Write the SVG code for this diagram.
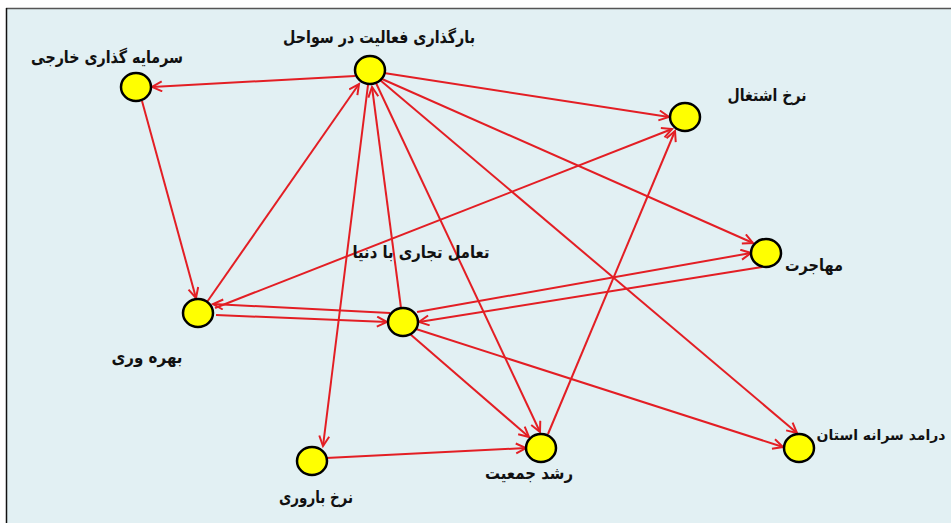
<svg xmlns="http://www.w3.org/2000/svg" width="951" height="523" viewBox="0 0 951 523">
<style>
.bg{fill:#e2f0f3}
.node{fill:#ffff00;stroke:#000;stroke-width:2.5}
.lbl{font-family:"DejaVu Sans","Noto Sans",sans-serif;font-size:17px;font-weight:bold;fill:#111;text-anchor:middle}
.e{stroke:#e31e24;stroke-width:2;fill:none;marker-end:url(#ah)}
</style>
<defs>
<marker id="ah" markerUnits="userSpaceOnUse" markerWidth="14" markerHeight="14" refX="11" refY="6" orient="auto">
<path d="M1,1 L11,6 L1,11" fill="none" stroke="#e31e24" stroke-width="2"/>
</marker>
</defs>
<rect x="0" y="0" width="951" height="523" fill="#ffffff"/>
<rect class="bg" x="7" y="9" width="944" height="514"/>
<line x1="6" y1="8.5" x2="951" y2="8.5" stroke="#555" stroke-width="1.5"/>
<line x1="6.5" y1="8" x2="6.5" y2="523" stroke="#111" stroke-width="1.5"/>
<g id="connectors">
<path class="e" d="M355,76 L152,87"/>
<path class="e" d="M142,101 L196,298"/>
<path class="e" d="M207,302 L359,84"/>
<path class="e" d="M368,85 L323,446"/>
<path class="e" d="M401,308 L372,87"/>
<path class="e" d="M384,73 L669,117"/>
<path class="e" d="M382,79 L753,243"/>
<path class="e" d="M376,83 L540,432"/>
<path class="e" d="M380,80 L797,433"/>
<path class="e" d="M215,308 L672,129"/>
<path class="e" d="M216,315 L387,322"/>
<path class="e" d="M390,313 L213,304"/>
<path class="e" d="M417,312 L751,253"/>
<path class="e" d="M762,267 L419,322"/>
<path class="e" d="M410,334 L529,437"/>
<path class="e" d="M416,329 L783,447"/>
<path class="e" d="M326,458 L526,448"/>
<path class="e" d="M548,434 L675,131"/>
</g>
<g id="n-coast">
<ellipse class="node" cx="370" cy="70" rx="15" ry="14"/>
<text class="lbl" x="379" y="43" textLength="192" lengthAdjust="spacingAndGlyphs">بارگذاری فعالیت در سواحل</text>
</g>
<g id="n-foreign-investment">
<ellipse class="node" cx="136" cy="87" rx="15" ry="14"/>
<text class="lbl" x="107" y="63" textLength="152" lengthAdjust="spacingAndGlyphs">سرمایه گذاری خارجی</text>
</g>
<g id="n-employment">
<ellipse class="node" cx="685" cy="117" rx="15" ry="14"/>
<text class="lbl" x="767" y="101" textLength="79" lengthAdjust="spacingAndGlyphs">نرخ اشتغال</text>
</g>
<g id="n-migration">
<ellipse class="node" cx="766" cy="253" rx="15" ry="14"/>
<text class="lbl" x="814" y="271" textLength="58" lengthAdjust="spacingAndGlyphs">مهاجرت</text>
</g>
<g id="n-trade">
<ellipse class="node" cx="403" cy="322" rx="15" ry="14"/>
<text class="lbl" x="421" y="258" textLength="137" lengthAdjust="spacingAndGlyphs">تعامل تجاری با  دنیا</text>
</g>
<g id="n-productivity">
<ellipse class="node" cx="198" cy="313" rx="15" ry="14"/>
<text class="lbl" x="147" y="363" textLength="71" lengthAdjust="spacingAndGlyphs">بهره وری</text>
</g>
<g id="n-fertility">
<ellipse class="node" cx="312" cy="461" rx="15" ry="14"/>
<text class="lbl" x="316" y="503" textLength="74" lengthAdjust="spacingAndGlyphs">نرخ باروری</text>
</g>
<g id="n-population">
<ellipse class="node" cx="541" cy="448" rx="15" ry="14"/>
<text class="lbl" x="529" y="479" textLength="88" lengthAdjust="spacingAndGlyphs">رشد جمعیت</text>
</g>
<g id="n-income">
<ellipse class="node" cx="799" cy="448" rx="15" ry="14"/>
<text class="lbl" x="881" y="440" style="font-size:14px">درامد سرانه استان</text>
</g>
</svg>
